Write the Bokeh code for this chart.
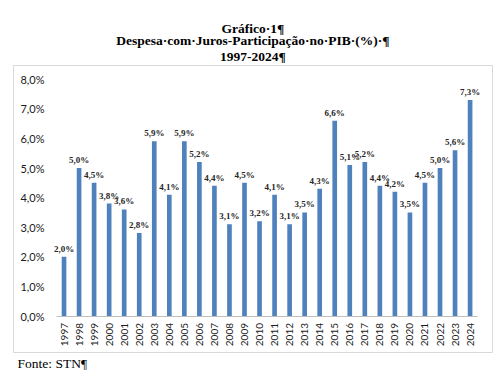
from bokeh.plotting import figure
from bokeh.models import ColumnDataSource, FixedTicker, Range1d, Title
from bokeh.embed import file_html
from bokeh.resources import INLINE

years = list(range(1997, 2025))
values = [2.0, 5.0, 4.5, 3.8, 3.6, 2.8, 5.9, 4.1, 5.9, 5.2, 4.4, 3.1, 4.5, 3.2,
          4.1, 3.1, 3.5, 4.3, 6.6, 5.1, 5.2, 4.4, 4.2, 3.5, 4.5, 5.0, 5.6, 7.3]
value_labels = [("%.1f%%" % v).replace(".", ",") for v in values]
y_ticks = [0, 1, 2, 3, 4, 5, 6, 7, 8]
y_tick_labels = ["0,0%", "1,0%", "2,0%", "3,0%", "4,0%", "5,0%", "6,0%", "7,0%", "8,0%"]

title_lines = ["Gráfico·1¶", "Despesa·com·Juros-Participação·no·PIB·(%)·¶", "1997-2024¶"]
source_text = "Fonte: STN¶"

src = ColumnDataSource(dict(year=years, value=values, label=value_labels))

p = figure(x_range=Range1d(1993.64, 2025.49), y_range=Range1d(-1.233, 8.463),
           width=500, height=372, output_backend="svg", toolbar_location=None,
           title=None, min_border_left=13, min_border_right=8,
           min_border_top=65, min_border_bottom=20)
p.outline_line_color = "#d9d9d9"
p.outline_line_width = 1
p.background_fill_color = "white"
p.border_fill_color = "white"
p.xgrid.grid_line_color = None
p.ygrid.grid_line_color = None

p.vbar(x="year", top="value", width=0.31, source=src,
       fill_color="#4f81bd", line_color=None)
p.text(x="year", y="value", text="label", source=src,
       text_align="center", text_baseline="bottom", y_offset=-3,
       text_font_size="9px", text_font_style="bold", text_color="#262626",
       text_font="Lato")

# y axis (inside the chart box)
p.yaxis.fixed_location = 1996.5
p.yaxis.ticker = FixedTicker(ticks=y_ticks)
p.yaxis.major_label_overrides = {t: l for t, l in zip(y_ticks, y_tick_labels)}
p.yaxis.axis_line_color = None
p.yaxis.major_tick_line_color = None
p.yaxis.minor_tick_line_color = None
p.yaxis.major_tick_out = 0
p.yaxis.major_tick_in = 0
p.yaxis.major_label_standoff = 12
p.yaxis.major_label_text_font = "Lato"
p.yaxis.major_label_text_font_size = "11px"
p.yaxis.major_label_text_color = "#1a1a1a"

# x axis (category baseline)
p.xaxis.fixed_location = 0
p.xaxis.bounds = (1996.5, 2024.5)
p.xaxis.ticker = FixedTicker(ticks=years)
p.xaxis.axis_line_color = "#bfbfbf"
p.xaxis.major_tick_line_color = None
p.xaxis.minor_tick_line_color = None
p.xaxis.major_tick_out = 0
p.xaxis.major_tick_in = 0
p.xaxis.major_label_standoff = 7
p.xaxis.major_label_orientation = 3.14159265 / 2
p.xaxis.major_label_text_font = "Lato"
p.xaxis.major_label_text_font_size = "10px"
p.xaxis.major_label_text_color = "#1a1a1a"

# title lines: the last added sits farthest from the chart
standoffs = [3, -4, -6]
for line, so in zip(reversed(title_lines), standoffs):
    p.add_layout(Title(text=line, align="center", offset=3, standoff=so,
                       text_font="Liberation Serif", text_font_style="bold",
                       text_font_size="13.5px", text_line_height=1.0,
                       text_color="#000000"), "above")
p.add_layout(Title(text=source_text, align="left", offset=4, standoff=2,
                   text_font="Liberation Serif", text_font_style="normal",
                   text_font_size="13.5px", text_color="#000000"), "below")

open("out.html", "w").write(file_html(p, INLINE))
